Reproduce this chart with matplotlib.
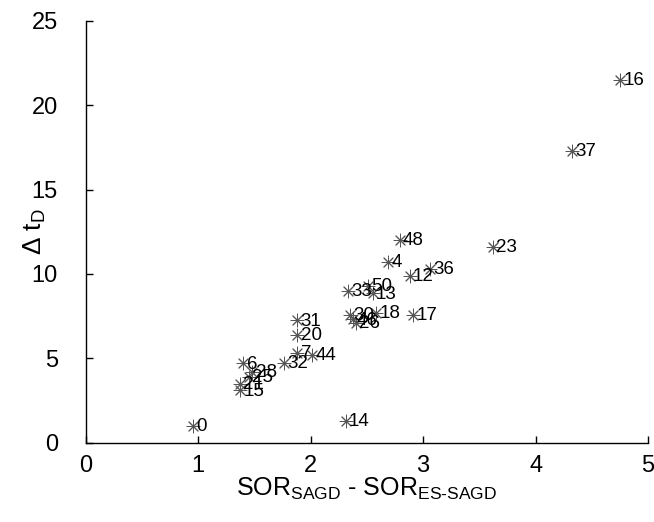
import matplotlib
matplotlib.use("Agg")
import matplotlib.pyplot as plt

plt.rcParams['font.family'] = ['Liberation Sans', 'DejaVu Sans']
plt.rcParams['mathtext.fontset'] = 'custom'
plt.rcParams['mathtext.rm'] = 'Liberation Sans'
plt.rcParams['mathtext.it'] = 'Liberation Sans'

labels = ['0', '16', '37', '23', '48', '4', '12', '36', '50', '33', '13', '18', '17',
          '30', '46', '26', '31', '20', '7', '44', '32', '6', '28', '25', '21', '15', '14']
dsor = [0.95, 4.75, 4.32, 3.62, 2.79, 2.69, 2.88, 3.06, 2.51, 2.33, 2.55, 2.58, 2.91,
        2.35, 2.38, 2.40, 1.88, 1.88, 1.88, 2.01, 1.76, 1.40, 1.48, 1.45, 1.37, 1.37, 2.31]
dtd = [1.0, 21.5, 17.3, 11.6, 12.0, 10.7, 9.9, 10.3, 9.3, 9.0, 8.85, 7.7, 7.55,
       7.55, 7.3, 7.1, 7.25, 6.4, 5.3, 5.2, 4.75, 4.7, 4.2, 3.9, 3.5, 3.1, 1.28]

fig = plt.figure(figsize=(6.54, 5.22), dpi=100)
ax = fig.add_axes([0.131, 0.152, 0.860, 0.808])
ax.scatter(dsor, dtd, marker=(8, 2, 0), s=85, c='#555555', linewidths=0.7, zorder=3)
for lab, x, y in zip(labels, dsor, dtd):
    ax.annotate(lab, (x, y), xytext=(2.5, -0.5), textcoords='offset points',
                ha='left', va='center', fontsize=13.5, color='black')

ax.set_xlim(0, 5)
ax.set_ylim(0, 25)
ax.set_xticks([0, 1, 2, 3, 4, 5])
ax.set_yticks([0, 5, 10, 15, 20, 25])
ax.tick_params(direction='in', labelsize=17, length=5, width=1)
ax.tick_params(axis='x', pad=9)
ax.tick_params(axis='y', pad=20)
for s in ['top', 'right']:
    ax.spines[s].set_visible(False)
for s in ['left', 'bottom']:
    ax.spines[s].set_linewidth(1)
ax.set_xlabel(r'SOR$_{\mathrm{SAGD}}$ - SOR$_{\mathrm{ES\text{-}SAGD}}$', fontsize=18, labelpad=-1)
ax.set_ylabel(r'$\Delta$ t$_{\mathrm{D}}$', fontsize=19)
ax.yaxis.set_label_coords(-0.067, 0.5)
fig.savefig('out.png', dpi=100)
